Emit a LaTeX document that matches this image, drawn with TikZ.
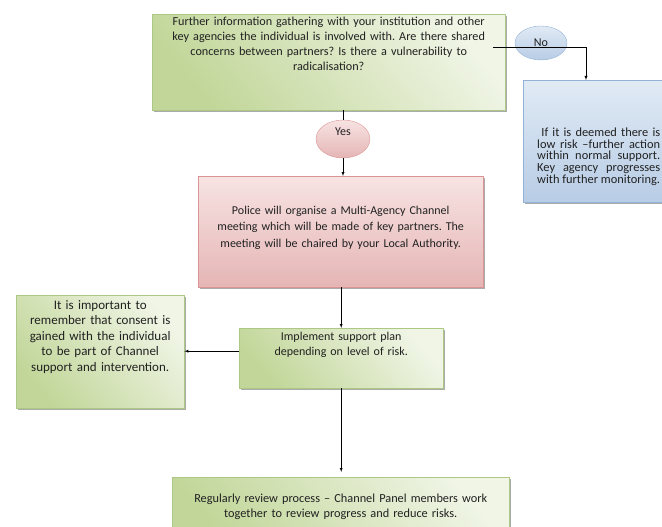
\documentclass[tikz,border=0pt]{standalone}
\usepackage{fontspec}
\setmainfont{Carlito}
\usepackage{tikz}
\usetikzlibrary{arrows}
\usetikzlibrary{shapes}
\usetikzlibrary{shadows}
\usetikzlibrary{calc}
\usetikzlibrary{positioning}
\definecolor{grndark}{rgb}{0.76,0.84,0.60}
\definecolor{grnlight}{rgb}{0.94,0.96,0.90}
\definecolor{grnline}{rgb}{0.68,0.78,0.52}
\definecolor{pnkdark}{rgb}{0.90,0.71,0.71}
\definecolor{pnklight}{rgb}{0.97,0.89,0.89}
\definecolor{pnkline}{rgb}{0.86,0.58,0.58}
\definecolor{bludark}{rgb}{0.72,0.80,0.90}
\definecolor{blulight}{rgb}{0.88,0.92,0.96}
\definecolor{bluline}{rgb}{0.58,0.70,0.84}
\definecolor{txt}{rgb}{0.13,0.13,0.13}
\frenchspacing

\tikzset{
  box/.style={draw, rectangle, anchor=north west, align=center, inner sep=3pt,
    text=txt, font=\fontsize{12}{15}\selectfont,
    drop shadow={shadow xshift=1.5pt, shadow yshift=-1.8pt, opacity=0.6, fill=black!55}},
  greenbox/.style={box, draw=grnline, bottom color=grndark, top color=grnlight, shading angle=-50},
  pinkbox/.style={box, draw=pnkline, bottom color=pnkdark, top color=pnklight},
  bluebox/.style={box, draw=bluline, bottom color=bludark, top color=blulight},
  answer/.style={draw, ellipse, inner sep=1pt, text=txt, font=\fontsize{12}{14}\selectfont},
  arr/.style={-latex, thin, black},
  link/.style={thin, black},
}

\begin{document}
\begin{tikzpicture}[x=1pt, y=-1pt]
  \useasboundingbox (0,0) rectangle (662,527);
  \clip (0,0) rectangle (662,527);

  % boxes
  \node[greenbox, text width=347pt, text height=8pt, text depth=82pt,
        font=\fontsize{12.2}{15}\selectfont] (gather) at (152,14)
    {Further information gathering with your institution and other\\
     key agencies the individual is involved with. Are there shared\\
     concerns between partners? Is there a vulnerability to\\
     radicalisation?};
  \node[bluebox, align=justify, inner xsep=14pt, text width=123pt, text height=53pt, text depth=63pt,
        font=\fontsize{12.4}{11.8}\selectfont] (nofurther) at (523,80)
    {\ If it is deemed there is\linebreak
     low risk --further action\linebreak
     within normal support.\linebreak
     Key agency progresses\linebreak
     with further monitoring.};
  \node[pinkbox, text width=279pt, text height=35pt, text depth=70pt,
        font=\fontsize{12}{16.5}\selectfont] (meeting) at (198,176)
    {Police will organise a Multi-Agency Channel\\
     meeting which will be made of key partners. The\\
     meeting will be chaired by your Local Authority.};
  \node[greenbox, text width=198pt, text height=9pt, text depth=45pt] (plan) at (239,328)
    {Implement support plan\\
     depending on level of risk.};
  \node[greenbox, text width=162pt, text height=11pt, text depth=96pt,
        font=\fontsize{13}{15.5}\selectfont] (consent) at (16,295)
    {It is important to\\
     remember that consent is\\
     gained with the individual\\
     to be part of Channel\\
     support and intervention.};
  \node[greenbox, text width=331pt, text height=22pt, text depth=42pt,
        font=\fontsize{12.3}{15}\selectfont] (review) at (172,477)
    {Regularly review process -- Channel Panel members work\\
     together to review progress and reduce risks.};

  % yes / no
  \node[answer, draw=pnkline, bottom color=pnkdark, top color=pnklight,
        minimum width=54pt, minimum height=38pt, text height=8pt, text depth=15pt] (yes) at (343,139) {Yes};
  \node[answer, draw=bluline, bottom color=bludark, top color=blulight,
        minimum width=52pt, minimum height=34pt] (no) at (541,43) {No};

  % connectors
  \coordinate (gout) at (493,47);
  \coordinate (nobend) at (586,47);
  \draw[arr] (gout) -- (nobend) -- (nobend |- nofurther.north);
  \draw[link] (yes.north |- gather.south) -- (yes.north);
  \draw[arr] (yes.south) -- (yes.south |- meeting.north);
  \draw[arr] (plan.north |- meeting.south) -- (plan.north);
  \draw[arr] ([yshift=7pt]plan.west) -- ([yshift=7pt]plan.west -| consent.east);
  \draw[arr, shorten >=5pt] (plan.south) -- (plan.south |- review.north);
\end{tikzpicture}
\end{document}
